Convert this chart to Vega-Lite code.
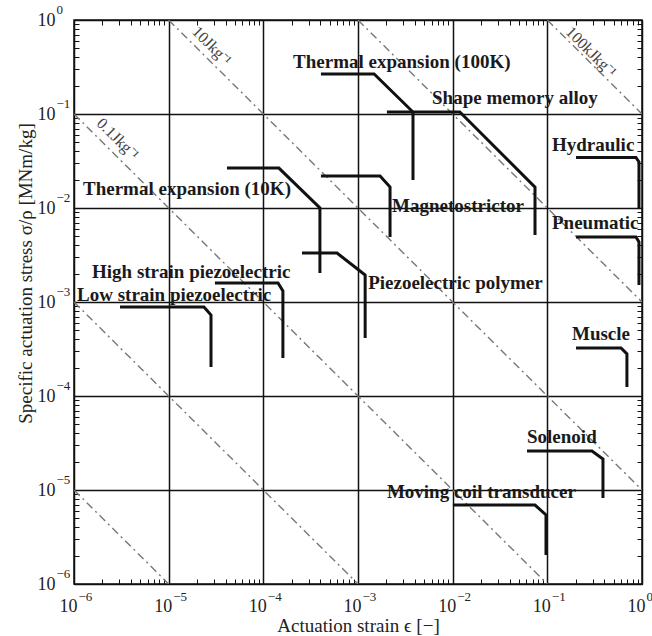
{
  "$schema": "https://vega.github.io/schema/vega-lite/v6.json",
  "width": 568,
  "height": 564,
  "autosize": {"type": "none"},
  "padding": {"left": 74, "top": 20, "right": 10, "bottom": 52},
  "background": "white",
  "config": {
    "view": {"stroke": "#111", "strokeWidth": 1.5},
    "font": "Liberation Serif"
  },
  "datasets": {
    "energy": [
      {"k": "a", "x": 1e-6, "y": 1e-5}, {"k": "a", "x": 1e-5, "y": 1e-6},
      {"k": "b", "x": 1e-6, "y": 1e-3}, {"k": "b", "x": 1e-3, "y": 1e-6},
      {"k": "c", "x": 1e-6, "y": 1e-1}, {"k": "c", "x": 1e-1, "y": 1e-6},
      {"k": "d", "x": 1e-5, "y": 1}, {"k": "d", "x": 1, "y": 1e-5},
      {"k": "e", "x": 1e-3, "y": 1}, {"k": "e", "x": 1, "y": 1e-3},
      {"k": "f", "x": 1e-1, "y": 1}, {"k": "f", "x": 1, "y": 1e-1}
    ],
    "curves": [
      {"name": "Thermal100K", "i": 1, "x": 4.06e-4, "y": 0.267},
      {"name": "Thermal100K", "i": 2, "x": 1.48e-3, "y": 0.267},
      {"name": "Thermal100K", "i": 3, "x": 3.81e-3, "y": 0.105},
      {"name": "Thermal100K", "i": 4, "x": 3.81e-3, "y": 0.0199},
      {"name": "SMA", "i": 1, "x": 2.02e-3, "y": 0.105},
      {"name": "SMA", "i": 2, "x": 0.0119, "y": 0.105},
      {"name": "SMA", "i": 3, "x": 0.0741, "y": 0.0167},
      {"name": "SMA", "i": 4, "x": 0.0741, "y": 0.00516},
      {"name": "Thermal10K", "i": 1, "x": 4.13e-5, "y": 0.0266},
      {"name": "Thermal10K", "i": 2, "x": 1.46e-4, "y": 0.0266},
      {"name": "Thermal10K", "i": 3, "x": 3.96e-4, "y": 0.01},
      {"name": "Thermal10K", "i": 4, "x": 3.96e-4, "y": 0.00204},
      {"name": "Magneto", "i": 1, "x": 4.06e-4, "y": 0.0219},
      {"name": "Magneto", "i": 2, "x": 1.71e-3, "y": 0.0219},
      {"name": "Magneto", "i": 3, "x": 2.18e-3, "y": 0.0167},
      {"name": "Magneto", "i": 4, "x": 2.18e-3, "y": 0.00491},
      {"name": "PiezoPoly", "i": 1, "x": 2.56e-4, "y": 0.00332},
      {"name": "PiezoPoly", "i": 2, "x": 6.0e-4, "y": 0.00332},
      {"name": "PiezoPoly", "i": 3, "x": 1.19e-3, "y": 0.00194},
      {"name": "PiezoPoly", "i": 4, "x": 1.19e-3, "y": 4.14e-4},
      {"name": "HighPiezo", "i": 1, "x": 3.08e-5, "y": 1.59e-3},
      {"name": "HighPiezo", "i": 2, "x": 1.43e-4, "y": 1.59e-3},
      {"name": "HighPiezo", "i": 3, "x": 1.61e-4, "y": 1.31e-3},
      {"name": "HighPiezo", "i": 4, "x": 1.61e-4, "y": 2.54e-4},
      {"name": "LowPiezo", "i": 1, "x": 3.06e-6, "y": 8.85e-4},
      {"name": "LowPiezo", "i": 2, "x": 2.36e-5, "y": 8.85e-4},
      {"name": "LowPiezo", "i": 3, "x": 2.8e-5, "y": 7.27e-4},
      {"name": "LowPiezo", "i": 4, "x": 2.8e-5, "y": 2.04e-4},
      {"name": "Hydraulic", "i": 1, "x": 0.201, "y": 0.0345},
      {"name": "Hydraulic", "i": 2, "x": 0.863, "y": 0.0345},
      {"name": "Hydraulic", "i": 3, "x": 0.929, "y": 0.0309},
      {"name": "Hydraulic", "i": 4, "x": 0.929, "y": 0.01},
      {"name": "Pneumatic", "i": 1, "x": 0.201, "y": 4.91e-3},
      {"name": "Pneumatic", "i": 2, "x": 0.863, "y": 4.91e-3},
      {"name": "Pneumatic", "i": 3, "x": 0.929, "y": 4.35e-3},
      {"name": "Pneumatic", "i": 4, "x": 0.929, "y": 1.52e-3},
      {"name": "Muscle", "i": 1, "x": 0.201, "y": 3.24e-4},
      {"name": "Muscle", "i": 2, "x": 0.6, "y": 3.24e-4},
      {"name": "Muscle", "i": 3, "x": 0.693, "y": 2.8e-4},
      {"name": "Muscle", "i": 4, "x": 0.693, "y": 1.25e-4},
      {"name": "Solenoid", "i": 1, "x": 0.061, "y": 2.6e-5},
      {"name": "Solenoid", "i": 2, "x": 0.296, "y": 2.6e-5},
      {"name": "Solenoid", "i": 3, "x": 0.387, "y": 2.14e-5},
      {"name": "Solenoid", "i": 4, "x": 0.387, "y": 8.22e-6},
      {"name": "MovingCoil", "i": 1, "x": 0.01006, "y": 6.92e-6},
      {"name": "MovingCoil", "i": 2, "x": 0.0741, "y": 6.92e-6},
      {"name": "MovingCoil", "i": 3, "x": 0.0968, "y": 5.42e-6},
      {"name": "MovingCoil", "i": 4, "x": 0.0968, "y": 2.04e-6}
    ],
    "labels": [
      {"label": "Thermal expansion (100K)", "x": 2.06e-4, "y": 0.357},
      {"label": "Shape memory alloy", "x": 6.05e-3, "y": 0.148},
      {"label": "Hydraulic", "x": 0.112, "y": 0.0468},
      {"label": "Magnetostrictor", "x": 2.29e-3, "y": 0.0105},
      {"label": "Thermal expansion (10K)", "x": 1.245e-6, "y": 0.0159},
      {"label": "Pneumatic", "x": 0.112, "y": 6.92e-3},
      {"label": "High strain piezoelectric", "x": 1.55e-6, "y": 2.09e-3},
      {"label": "Low strain piezoelectric", "x": 1.076e-6, "y": 1.19e-3},
      {"label": "Piezoelectric polymer", "x": 1.28e-3, "y": 1.59e-3},
      {"label": "Muscle", "x": 0.182, "y": 4.57e-4},
      {"label": "Solenoid", "x": 0.061, "y": 3.66e-5},
      {"label": "Moving coil transducer", "x": 2.02e-3, "y": 9.52e-6}
    ],
    "elabels": [
      {"label": "0.1Jkg⁻¹", "x": 2.9e-6, "y": 0.0542},
      {"label": "10Jkg⁻¹", "x": 2.85e-5, "y": 0.529},
      {"label": "100kJkg⁻¹", "x": 0.289, "y": 0.457}
    ]
  },
  "layer": [
    {
      "data": {"name": "energy"},
      "mark": {"type": "line", "stroke": "#777", "strokeWidth": 1.4, "strokeDash": [8, 4, 2, 4], "clip": true},
      "encoding": {
        "x": {
          "field": "x", "type": "quantitative",
          "scale": {"type": "log", "domain": [1e-6, 1], "nice": false},
          "axis": {
            "orient": "top", "title": null, "labels": false, "grid": false, "domain": false,
            "tickSize": -5, "tickColor": "#111", "tickWidth": 1,
            "values": [1e-6,2e-6,3e-6,4e-6,5e-6,6e-6,7e-6,8e-6,9e-6,1e-5,2e-5,3e-5,4e-5,5e-5,6e-5,7e-5,8e-5,9e-5,1e-4,2e-4,3e-4,4e-4,5e-4,6e-4,7e-4,8e-4,9e-4,1e-3,2e-3,3e-3,4e-3,5e-3,6e-3,7e-3,8e-3,9e-3,1e-2,2e-2,3e-2,4e-2,5e-2,6e-2,7e-2,8e-2,9e-2,1e-1,2e-1,3e-1,4e-1,5e-1,6e-1,7e-1,8e-1,9e-1,1]
          }
        },
        "y": {
          "field": "y", "type": "quantitative",
          "scale": {"type": "log", "domain": [1e-6, 1], "nice": false},
          "axis": {
            "orient": "right", "title": null, "labels": false, "grid": false, "domain": false,
            "tickSize": -5, "tickColor": "#111", "tickWidth": 1,
            "values": [1e-6,2e-6,3e-6,4e-6,5e-6,6e-6,7e-6,8e-6,9e-6,1e-5,2e-5,3e-5,4e-5,5e-5,6e-5,7e-5,8e-5,9e-5,1e-4,2e-4,3e-4,4e-4,5e-4,6e-4,7e-4,8e-4,9e-4,1e-3,2e-3,3e-3,4e-3,5e-3,6e-3,7e-3,8e-3,9e-3,1e-2,2e-2,3e-2,4e-2,5e-2,6e-2,7e-2,8e-2,9e-2,1e-1,2e-1,3e-1,4e-1,5e-1,6e-1,7e-1,8e-1,9e-1,1]
          }
        },
        "detail": {"field": "k"}
      }
    },
    {
      "data": {"name": "curves"},
      "mark": {"type": "line", "stroke": "#111", "strokeWidth": 3, "clip": true},
      "encoding": {
        "x": {
          "field": "x", "type": "quantitative",
          "scale": {"type": "log", "domain": [1e-6, 1], "nice": false},
          "axis": {
            "orient": "bottom", "title": "Actuation strain ϵ [−]",
            "values": [1e-6,2e-6,3e-6,4e-6,5e-6,6e-6,7e-6,8e-6,9e-6,1e-5,2e-5,3e-5,4e-5,5e-5,6e-5,7e-5,8e-5,9e-5,1e-4,2e-4,3e-4,4e-4,5e-4,6e-4,7e-4,8e-4,9e-4,1e-3,2e-3,3e-3,4e-3,5e-3,6e-3,7e-3,8e-3,9e-3,1e-2,2e-2,3e-2,4e-2,5e-2,6e-2,7e-2,8e-2,9e-2,1e-1,2e-1,3e-1,4e-1,5e-1,6e-1,7e-1,8e-1,9e-1,1],
            "grid": true, "gridColor": "#111", "gridWidth": 1.5,
            "gridOpacity": {"condition": {"test": "abs(log(datum.value)/LN10 - round(log(datum.value)/LN10)) < 0.001", "value": 1}, "value": 0},
            "domain": false, "tickSize": -5, "tickColor": "#111", "tickWidth": 1,
            "labelExpr": "abs(log(datum.value)/LN10 - round(log(datum.value)/LN10)) < 0.001 ? '10' : ''",
            "labelFont": "Liberation Serif", "labelFontSize": 18, "labelColor": "#222",
            "labelBaseline": "alphabetic", "labelAlign": "right", "labelOffset": 3, "labelPadding": 32,
            "labelOverlap": false, "labelFlush": false, "labelBound": false,
            "titleFont": "Liberation Serif", "titleFontSize": 19, "titleFontWeight": "normal", "titleColor": "#222",
            "titleBaseline": "alphabetic", "titleY": 47
          }
        },
        "y": {
          "field": "y", "type": "quantitative",
          "scale": {"type": "log", "domain": [1e-6, 1], "nice": false},
          "axis": {
            "orient": "left", "title": "Specific actuation stress σ/ρ [MNm/kg]",
            "values": [1e-6,2e-6,3e-6,4e-6,5e-6,6e-6,7e-6,8e-6,9e-6,1e-5,2e-5,3e-5,4e-5,5e-5,6e-5,7e-5,8e-5,9e-5,1e-4,2e-4,3e-4,4e-4,5e-4,6e-4,7e-4,8e-4,9e-4,1e-3,2e-3,3e-3,4e-3,5e-3,6e-3,7e-3,8e-3,9e-3,1e-2,2e-2,3e-2,4e-2,5e-2,6e-2,7e-2,8e-2,9e-2,1e-1,2e-1,3e-1,4e-1,5e-1,6e-1,7e-1,8e-1,9e-1,1],
            "grid": true, "gridColor": "#111", "gridWidth": 1.5,
            "gridOpacity": {"condition": {"test": "abs(log(datum.value)/LN10 - round(log(datum.value)/LN10)) < 0.001", "value": 1}, "value": 0},
            "domain": false, "tickSize": -5, "tickColor": "#111", "tickWidth": 1,
            "labelExpr": "abs(log(datum.value)/LN10 - round(log(datum.value)/LN10)) < 0.001 ? '10' : ''",
            "labelFont": "Liberation Serif", "labelFontSize": 18, "labelColor": "#222",
            "labelBaseline": "middle", "labelAlign": "right", "labelPadding": 24,
            "labelOverlap": false, "labelFlush": false, "labelBound": false,
            "titleFont": "Liberation Serif", "titleFontSize": 19, "titleFontWeight": "normal", "titleColor": "#222",
            "titleAngle": -90, "titleAlign": "center", "titleBaseline": "middle", "titleX": -49, "titleY": 253
          }
        },
        "detail": {"field": "name"},
        "order": {"field": "i"}
      }
    },
    {
      "data": {"name": "labels"},
      "mark": {"type": "text", "align": "left", "baseline": "middle", "font": "Liberation Serif", "fontWeight": "bold", "fontSize": 19, "color": "#1a1a1a"},
      "encoding": {
        "x": {
          "field": "x", "type": "quantitative", "scale": {"type": "log", "domain": [1e-6, 1], "nice": false},
          "axis": {
            "orient": "bottom", "title": null, "grid": false, "domain": false, "ticks": true, "tickSize": 0, "tickOpacity": 0,
            "values": [1e-6, 1e-5, 1e-4, 1e-3, 1e-2, 1e-1, 1],
            "labelExpr": "round(log(datum.value)/LN10) < 0 ? '−' + abs(round(log(datum.value)/LN10)) : '0'",
            "labelFont": "Liberation Serif", "labelFontSize": 13, "labelColor": "#222",
            "labelBaseline": "alphabetic", "labelAlign": "left", "labelOffset": 4, "labelPadding": 16,
            "labelOverlap": false, "labelFlush": false, "labelBound": false
          }
        },
        "y": {
          "field": "y", "type": "quantitative", "scale": {"type": "log", "domain": [1e-6, 1], "nice": false},
          "axis": {
            "orient": "left", "title": null, "grid": false, "domain": false, "ticks": true, "tickSize": 0, "tickOpacity": 0,
            "values": [1e-6, 1e-5, 1e-4, 1e-3, 1e-2, 1e-1, 1],
            "labelExpr": "round(log(datum.value)/LN10) < 0 ? '−' + abs(round(log(datum.value)/LN10)) : '0'",
            "labelFont": "Liberation Serif", "labelFontSize": 13, "labelColor": "#222",
            "labelBaseline": "middle", "labelAlign": "left", "labelOffset": -11, "labelPadding": 18,
            "labelOverlap": false, "labelFlush": false, "labelBound": false
          }
        },
        "text": {"field": "label"}
      }
    },
    {
      "data": {"name": "elabels"},
      "mark": {"type": "text", "align": "center", "baseline": "middle", "angle": 45, "font": "Liberation Serif", "fontSize": 16, "color": "#444"},
      "encoding": {
        "x": {"field": "x", "type": "quantitative", "scale": {"type": "log", "domain": [1e-6, 1], "nice": false}, "axis": null},
        "y": {"field": "y", "type": "quantitative", "scale": {"type": "log", "domain": [1e-6, 1], "nice": false}, "axis": null},
        "text": {"field": "label"}
      }
    }
  ],
  "resolve": {"axis": {"x": "independent", "y": "independent"}}
}
